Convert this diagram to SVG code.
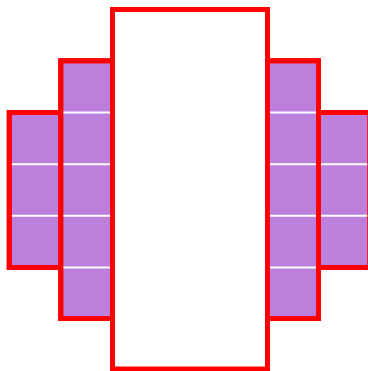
<svg xmlns="http://www.w3.org/2000/svg" width="368" height="371" viewBox="0 0 368 371">
<style>
.cell{fill:#bc80dc;stroke:#ff0000;stroke-width:5}
.main{fill:#ffffff;stroke:#ff0000;stroke-width:5}
.div{stroke:#ffffff;stroke-width:2}
</style>
<rect x="0" y="0" width="368" height="371" fill="#ffffff"/>
<g id="left-outer">
<rect class="cell" x="9.25" y="112.5" width="51.5" height="155"/>
<line class="div" x1="11.75" y1="164.2" x2="58.25" y2="164.2"/>
<line class="div" x1="11.75" y1="215.8" x2="58.25" y2="215.8"/>
<rect x="9.25" y="112.5" width="51.5" height="155" fill="none" stroke="#ff0000" stroke-width="5"/>
</g>
<g id="right-outer">
<rect class="cell" x="318.5" y="112.5" width="51.5" height="155"/>
<line class="div" x1="321" y1="164.2" x2="367.5" y2="164.2"/>
<line class="div" x1="321" y1="215.8" x2="367.5" y2="215.8"/>
<rect x="318.5" y="112.5" width="51.5" height="155" fill="none" stroke="#ff0000" stroke-width="5"/>
</g>
<g id="left-inner">
<rect class="cell" x="60.75" y="60.75" width="51.75" height="257.75"/>
<line class="div" x1="63.25" y1="112.5" x2="110" y2="112.5"/>
<line class="div" x1="63.25" y1="164.2" x2="110" y2="164.2"/>
<line class="div" x1="63.25" y1="215.8" x2="110" y2="215.8"/>
<line class="div" x1="63.25" y1="267.5" x2="110" y2="267.5"/>
<rect x="60.75" y="60.75" width="51.75" height="257.75" fill="none" stroke="#ff0000" stroke-width="5"/>
</g>
<g id="right-inner">
<rect class="cell" x="267.5" y="60.75" width="51" height="257.75"/>
<line class="div" x1="270" y1="112.5" x2="316" y2="112.5"/>
<line class="div" x1="270" y1="164.2" x2="316" y2="164.2"/>
<line class="div" x1="270" y1="215.8" x2="316" y2="215.8"/>
<line class="div" x1="270" y1="267.5" x2="316" y2="267.5"/>
<rect x="267.5" y="60.75" width="51" height="257.75" fill="none" stroke="#ff0000" stroke-width="5"/>
</g>
<g id="center">
<rect class="main" x="112.5" y="9.5" width="155" height="359.5"/>
</g>
<g id="connectors"/>
</svg>
